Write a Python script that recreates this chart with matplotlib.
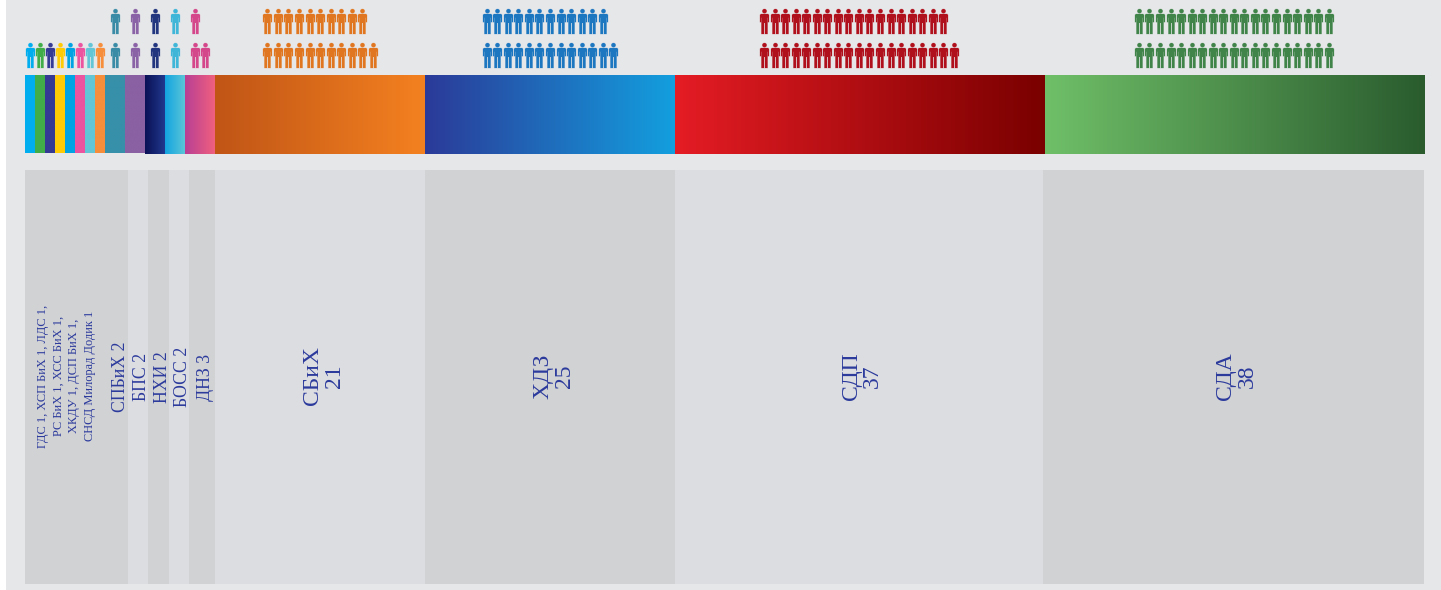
import numpy as np
import matplotlib
matplotlib.use("Agg")
import matplotlib.pyplot as plt
from matplotlib.colors import LinearSegmentedColormap
from matplotlib.patches import Rectangle
from matplotlib.path import Path

# mandati po stranci (ljevo -> desno)
stranke = ["ГДС", "ХСП БиХ", "ЛДС", "РС БиХ", "ХСС БиХ", "ХКДУ", "ДСП БиХ", "СНСД Милорад Додик",
           "СПБиХ", "БПС", "НХИ", "БОСС", "ДНЗ", "СБиХ", "ХДЗ", "СДП", "СДА"]
mandati = [1, 1, 1, 1, 1, 1, 1, 1, 2, 2, 2, 2, 3, 21, 25, 37, 38]

boja_start = ["#00aeef", "#41ad49", "#353a94", "#ffcb05", "#00a3e4", "#ec549f", "#62c6d6", "#f68e3b",
              "#3790a9", "#8a61a3", "#0b1155", "#12a4e0", "#b83f95", "#c05516", "#2b3a98", "#e51c24", "#6fbf68"]
boja_kraj = ["#00aeef", "#41ad49", "#353a94", "#ffcb05", "#00a3e4", "#ec549f", "#62c6d6", "#f68e3b",
             "#3790a9", "#8a61a3", "#20388e", "#5bc6d8", "#f0607e", "#f48120", "#139fdf", "#7a0000", "#2a5c2e"]
boja_ikona = ["#00aeef", "#41ad49", "#353a94", "#ffcb05", "#00a3e4", "#ec549f", "#62c6d6", "#f68e3b",
              "#3a8ca6", "#8a62a6", "#22357f", "#3fb6d8", "#d4478a", "#e0761f", "#1d76c0", "#b0101c", "#41844a"]

# sive trake u donjem dijelu, sirina u mandatima
trake_sirina = [10.3, 2.0, 2.1, 2.0, 2.6, 21.0, 25.0, 36.8, 38.1]
trake_boja = ["#d1d2d4", "#dcdde0"]

natpis_mali = ["ГДС 1, ХСП БиХ 1, ЛДС 1,", "РС БиХ 1, ХСС БиХ 1,", "ХКДУ 1, ДСП БиХ 1,", "СНСД Милорад Додик 1"]
natpis_mali_x = [1.8, 3.4, 4.9, 6.5]
natpis_srednji = ["СПБиХ 2", "БПС 2", "НХИ 2", "БОСС 2", "ДНЗ 3"]
natpis_srednji_x = [9.5, 11.6, 13.7, 15.7, 18.0]
natpis_veliki = ["СБиХ\n21", "ХДЗ\n25", "СДП\n37", "СДА\n38"]
natpis_veliki_x = [29.8, 52.9, 83.7, 121.2]

PLAVA = "#2b3a9c"
FONT = "Liberation Serif"
PX = 9.997  # piksela po mandatu
X0 = 25.2  # piksel gdje pocinje bar


def ikona_covjek():
    """Silueta covjeka kao Path, za marker u scatter-u."""
    t = np.linspace(0, 2 * np.pi, 25)
    glava = np.column_stack([0.17 * np.cos(t), 0.83 + 0.17 * np.sin(t)])
    tijelo = np.array([
        (-0.28, 0.60), (0.28, 0.60), (0.36, 0.52), (0.36, -0.05), (0.27, -0.05),
        (0.27, 0.30), (0.24, 0.30), (0.24, -1.0), (0.04, -1.0), (0.04, -0.12),
        (-0.04, -0.12), (-0.04, -1.0), (-0.24, -1.0), (-0.24, 0.30), (-0.27, 0.30),
        (-0.27, -0.05), (-0.36, -0.05), (-0.36, 0.52), (-0.28, 0.60),
    ])
    verts = np.vstack([glava, tijelo])
    codes = ([Path.MOVETO] + [Path.LINETO] * (len(glava) - 1)
             + [Path.MOVETO] + [Path.LINETO] * (len(tijelo) - 1))
    return Path(verts, codes)


def crtaj_ikone(ax, x, y, boja, marker):
    ax.scatter(x, y, s=324, marker=marker, facecolor=boja, edgecolor=boja,
               linewidth=0.6, alpha=0.28, zorder=3)
    ax.scatter(x, y, s=324, marker=marker, facecolor=boja, linewidth=0, zorder=4)


fig = plt.figure(figsize=(14.41, 5.90), dpi=100, facecolor="white")
ax = fig.add_axes([0, 0, 1, 1])
ax.set_xlim(-X0 / PX, (1441 - X0) / PX)
ax.set_ylim(590, 0)
ax.axis("off")

# pozadina, lijevo ostaje bijela traka
ax.add_patch(Rectangle(((6 - X0) / PX, 0), 1435 / PX, 590, facecolor="#e6e7e9", linewidth=0, zorder=0))

# sive trake
lijevo = 0.0
for i, sirina in enumerate(trake_sirina):
    ax.add_patch(Rectangle((lijevo, 170), sirina, 414, facecolor=trake_boja[i % 2], linewidth=0, zorder=1))
    lijevo += sirina

# gradijent bar i ikone
marker = ikona_covjek()
lijevo = 0
for i, n in enumerate(mandati):
    dno = 153 if i < 10 else 154
    cmap = LinearSegmentedColormap.from_list("s", [boja_start[i], boja_kraj[i]])
    ax.imshow(np.linspace(0, 1, 256).reshape(1, -1), cmap=cmap, aspect="auto",
              extent=(lijevo, lijevo + n, dno, 75), zorder=2, interpolation="bilinear")
    # velike grupe su u originalu malo ulijevo
    sredina = lijevo + n / 2 - (0.1 if n > 30 else 0)
    korak = 1.055
    donji = (n + 1) // 2
    x_donji = sredina + (np.arange(donji) - (donji - 1) / 2) * korak
    crtaj_ikone(ax, x_donji, np.full(donji, 54.5), boja_ikona[i], marker)
    if n // 2 > 0:
        x_gornji = x_donji[: n // 2]
        crtaj_ikone(ax, x_gornji, np.full(n // 2, 20.5), boja_ikona[i], marker)
    lijevo += n

ax.set_xlim(-X0 / PX, (1441 - X0) / PX)
ax.set_ylim(590, 0)

for x, s in zip(natpis_mali_x, natpis_mali):
    ax.text(x, 376, s, rotation=90, ha="center", va="center", color=PLAVA,
            fontsize=8.9, family=FONT, zorder=5)
for x, s in zip(natpis_srednji_x, natpis_srednji):
    ax.text(x, 377, s, rotation=90, ha="center", va="center", color=PLAVA,
            fontsize=12.8, family=FONT, zorder=5)
for x, s in zip(natpis_veliki_x, natpis_veliki):
    ax.text(x, 376, s, rotation=90, ha="center", va="center", ma="center", color=PLAVA,
            fontsize=17, family=FONT, linespacing=1.05, zorder=5)

fig.savefig("out.png", dpi=100, facecolor=fig.get_facecolor())
